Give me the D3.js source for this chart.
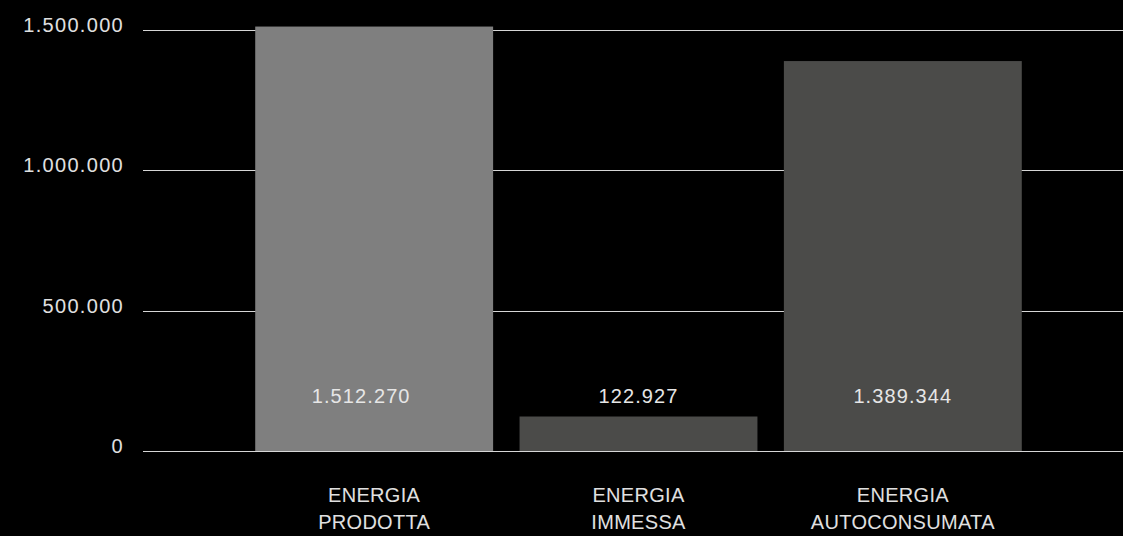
<!DOCTYPE html>
<html><head><meta charset="utf-8">
<script src="https://cdn.jsdelivr.net/npm/d3@7"></script>
<style>
html,body{margin:0;padding:0;background:#000;}
svg{display:block;}
text{font-family:"Liberation Sans","Helvetica Neue",Helvetica,Arial,sans-serif;}
</style></head>
<body>
<svg id="c" width="1123" height="536"></svg>
<script>
const categories = [["ENERGIA","PRODOTTA"],["ENERGIA","IMMESSA"],["ENERGIA","AUTOCONSUMATA"]];
const values = [1512270, 122927, 1389344];
const valueLabels = ["1.512.270","122.927","1.389.344"];
const barColors = ["#7f7f7f","#4b4b49","#4b4b49"];
const tickValues = [0, 500000, 1000000, 1500000];
const tickLabels = ["0","500.000","1.000.000","1.500.000"];

const W = 1123, H = 536;
const svg = d3.select("#c");
svg.append("rect").attr("width",W).attr("height",H).attr("fill","#000");

const y = d3.scaleLinear().domain([0,1500000]).range([451,30]);
const x = d3.scaleBand().domain(d3.range(values.length)).range([242,1035]).paddingInner(0.1).paddingOuter(0.05);

const gridLeft = 143, gridRight = 1123;
const labelDx = [-13, 0, 0];

// gridlines
svg.append("g").selectAll("line").data(tickValues).join("line")
  .attr("x1",gridLeft).attr("x2",gridRight)
  .attr("y1",d=>Math.round(y(d))+0.5).attr("y2",d=>Math.round(y(d))+0.5)
  .attr("stroke","#d6d6d6").attr("stroke-width",1);

// tick labels
svg.append("g").selectAll("text").data(tickValues).join("text")
  .attr("x",124).attr("y",d=>y(d)-5).attr("dy","0.35em")
  .attr("text-anchor","end").attr("fill","#e0e0e0").attr("font-size",20)
  .attr("letter-spacing","1.3px")
  .text((d,i)=>tickLabels[i]);

// bars
svg.append("g").selectAll("rect").data(values).join("rect")
  .attr("x",(d,i)=>x(i)).attr("width",x.bandwidth())
  .attr("y",d=>y(d)).attr("height",d=>y(0)-y(d))
  .attr("fill",(d,i)=>barColors[i]);

// redraw zero line on top of bars
svg.append("line").attr("x1",gridLeft).attr("x2",gridRight)
  .attr("y1",Math.round(y(0))+0.5).attr("y2",Math.round(y(0))+0.5)
  .attr("stroke","#d6d6d6").attr("stroke-width",1);

// value labels
svg.append("g").selectAll("text").data(values).join("text")
  .attr("x",(d,i)=>x(i)+x.bandwidth()/2+labelDx[i]).attr("y",y(0)-48)
  .attr("text-anchor","middle").attr("fill","#e6e6e6").attr("font-size",20)
  .attr("letter-spacing","1.1px")
  .text((d,i)=>valueLabels[i]);

// category labels
const cat = svg.append("g").selectAll("text").data(categories).join("text")
  .attr("text-anchor","middle").attr("fill","#e0e0e0").attr("font-size",20)
  .attr("letter-spacing","0.3px");
cat.each(function(d,i){
  const t = d3.select(this);
  d.forEach((line,j)=>{
    t.append("tspan").attr("x",x(i)+x.bandwidth()/2).attr("y",502+j*27).text(line);
  });
});
</script>
</body></html>
